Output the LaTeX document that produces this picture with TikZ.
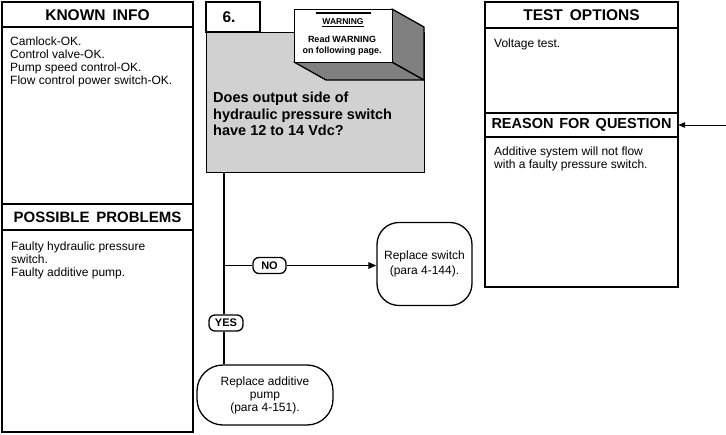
\documentclass[tikz,border=0pt]{standalone}
\usepackage{fontspec}
\setmainfont{Liberation Sans}
\usetikzlibrary{arrows.meta}
\begin{document}
\begin{tikzpicture}[x=1pt,y=-1pt,
  panel/.style={draw, line width=1.3pt},
  hdr/.style={font=\fontsize{15.5}{18}\selectfont\bfseries, inner sep=0pt},
  body/.style={font=\fontsize{12}{13}\selectfont, anchor=north west, align=left, inner sep=0pt},
  lbl/.style={draw, line width=1.3pt, rounded corners=6pt, font=\fontsize{11}{12}\selectfont\bfseries, inner sep=1pt, minimum height=16pt, fill=white},
  endbox/.style={draw, line width=1.3pt, align=center, font=\fontsize{12}{15}\selectfont, inner sep=2pt},
  conn/.style={line width=1.3pt},
  tip/.style={-{Triangle[length=8pt,width=6.5pt]}}
]
\useasboundingbox (0,0) rectangle (726,434);

% ---------- left panel ----------
\draw[panel] (2,2) rectangle (193,432);
\draw[panel] (2,27) -- (193,27);
\draw[panel] (2,204) rectangle (193,230);
\node[hdr] (kh) at (97.5,15) {KNOWN\hspace{0.45em}INFO};
\node[body] (ki) at (10,37) {Camlock-OK.\\Control valve-OK.\\Pump speed control-OK.\\Flow control power switch-OK.};
\node[hdr, font=\fontsize{15}{18}\selectfont\bfseries] (ph) at (97.5,217.5) {POSSIBLE\hspace{0.45em}PROBLEMS};
\node[body] (pp) at (11,242) {Faulty hydraulic pressure\\switch.\\Faulty additive pump.};

% ---------- right panel ----------
\draw[panel] (485,2) rectangle (678,287);
\draw[panel] (485,28) -- (678,28);
\draw[panel] (485,113) rectangle (678,137);
\node[hdr] (th) at (581.5,15.5) {TEST\hspace{0.45em}OPTIONS};
\node[body] (to) at (494,39) {Voltage test.};
\node[hdr, font=\fontsize{14.5}{17}\selectfont\bfseries, minimum width=193pt, minimum height=24pt] (reason) at (581.5,125) {REASON\hspace{0.4em}FOR\hspace{0.4em}QUESTION};
\node[body] (rq) at (494,147) {Additive system will not flow\\with a faulty pressure switch.};
\coordinate (ra) at (726,125);
\draw[line width=0.9pt, -{Triangle[length=7pt,width=5.5pt]}] (ra) -- (reason.east);

% ---------- question box ----------
\draw[panel] (206,2) rectangle (260,32);
\node[hdr] (num) at (229,17) {6.};
\node[panel, fill=black!18, anchor=north west, minimum width=218pt, minimum height=140pt, inner sep=0pt] (q) at (206,32) {};
\node[anchor=north west, align=left, inner sep=0pt, font=\fontsize{14.5}{16.5}\selectfont\bfseries] (qt) at (213,92) {Does output side of\\hydraulic pressure switch\\have 12 to 14 Vdc?};

% warning 3D box
\filldraw[line width=1.3pt, fill=black!50, line join=round] (294,62) -- (392,62) -- (424,80) -- (326,80) -- cycle;
\filldraw[line width=1.3pt, fill=black!50, line join=round] (392,9) -- (424,27) -- (424,80) -- (392,62) -- cycle;
\node[panel, fill=white, anchor=north west, minimum width=98pt, minimum height=53pt, inner sep=0pt] (warn) at (294,9) {};
\node[inner sep=0pt, font=\fontsize{8.5}{10}\selectfont\bfseries] (wt) at (343,22) {WARNING};
\draw[line width=1.5pt] ([xshift=-6pt,yshift=6pt]wt.north west) -- ([xshift=7pt,yshift=6pt]wt.north east);
\draw[line width=0.7pt] ([yshift=-1.5pt]wt.base west) -- ([yshift=-1.5pt]wt.base east);
\node[align=center, inner sep=0pt, font=\fontsize{9}{11}\selectfont\bfseries] (wr) at (342,45.5) {Read WARNING\\on following page.};

% ---------- flow ----------
\node[lbl, minimum width=33pt] (no) at (269.5,265.5) {NO};
\node[lbl, minimum width=34pt] (yes) at (226,323) {YES};
\node[endbox, minimum width=95pt, minimum height=83pt, rounded corners=22pt] (sw) at (424.5,264) {Replace switch\\(para 4-144).};
\node[endbox, minimum width=136pt, minimum height=60pt, rounded corners=26pt, font=\fontsize{12}{13}\selectfont] (pump) at (265,395) {Replace additive\\pump\\(para 4-151).};

\coordinate (qb) at (224,172);
\coordinate (j) at (qb |- no.west);
\draw[conn] (qb) -- (qb |- yes.north);
\draw[conn] (j) -- (no.west);
\draw[conn, tip] (no.east) -- (no.east -| sw.west);
\draw[conn] (qb |- yes.south) -- (qb |- pump.north);
\end{tikzpicture}
\end{document}
